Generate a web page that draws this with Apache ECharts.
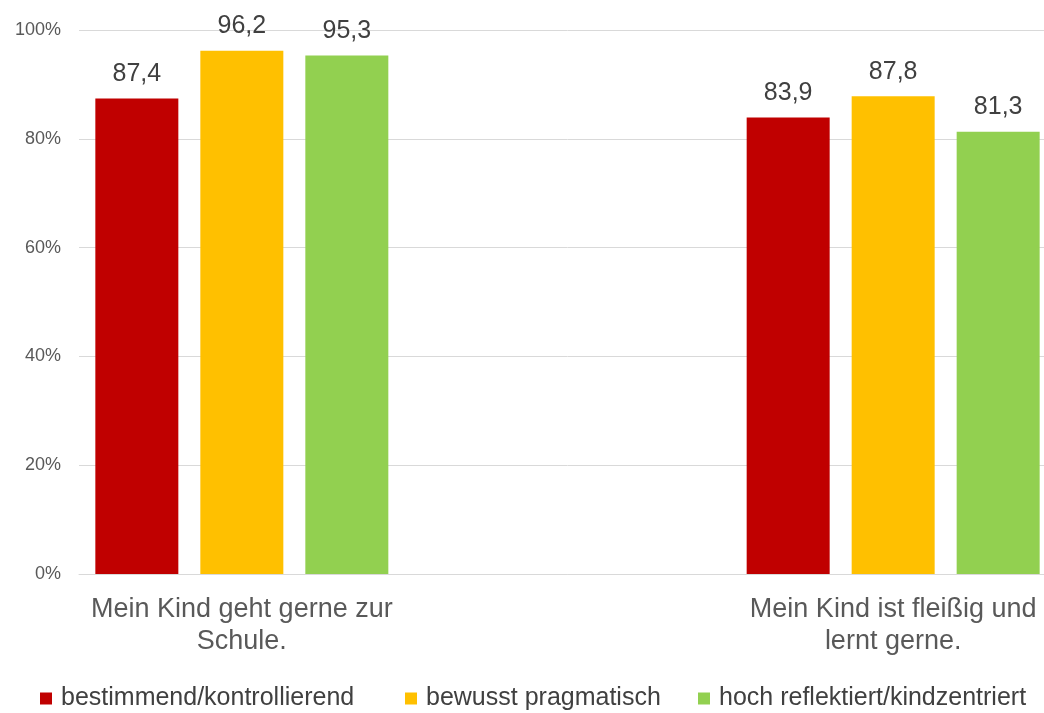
<!DOCTYPE html>
<html>
<head>
<meta charset="utf-8">
<script src="https://cdn.jsdelivr.net/npm/echarts@6/dist/echarts.min.js"></script>
<style>
  html, body { margin: 0; padding: 0; background: #fff; overflow: hidden; }
  #chart { width: 1060px; height: 713px; }
</style>
</head>
<body>
<div id="chart"></div>
<script>
// Statements (the empty middle slot separates the two groups)
const categories = ['Mein Kind geht gerne zur\nSchule.', '', 'Mein Kind ist fleißig und\nlernt gerne.'];
const seriesNames = ['bestimmend/kontrollierend', 'bewusst pragmatisch', 'hoch reflektiert/kindzentriert'];
const valuesKontrollierend = [87.4, '-', 83.9];
const valuesPragmatisch = [96.2, '-', 87.8];
const valuesReflektiert = [95.3, '-', 81.3];
const yTicks = [0, 20, 40, 60, 80, 100];
const colors = ['#C00000', '#FFC000', '#92D050'];

const font = 'Liberation Sans, Arial, sans-serif';
const seriesValues = [valuesKontrollierend, valuesPragmatisch, valuesReflektiert];

// one legend block per series so each entry sits at its own spot
const legendLefts = [40, 405, 698];
const legends = seriesNames.map((name, i) => ({
  data: [name],
  left: legendLefts[i],
  bottom: 2,
  padding: 0,
  itemWidth: 12,
  itemHeight: 12,
  icon: 'rect',
  selectedMode: false,
  textStyle: { fontSize: 25, color: '#404040', fontFamily: font, padding: [0, 0, 0, 4] }
}));

const chart = echarts.init(document.getElementById('chart'));
chart.setOption({
  animation: false,
  color: colors,
  textStyle: { fontFamily: font },
  grid: { left: 79, width: 977, top: 30, bottom: 139, containLabel: false },
  legend: legends,
  xAxis: {
    type: 'category',
    data: categories,
    axisLine: { show: true, lineStyle: { color: '#D9D9D9', width: 1 } },
    axisTick: { show: false },
    axisLabel: {
      interval: 0,
      fontSize: 27,
      color: '#595959',
      lineHeight: 32,
      margin: 20,
      fontFamily: font
    }
  },
  yAxis: {
    type: 'value',
    min: yTicks[0],
    max: yTicks[yTicks.length - 1],
    interval: yTicks[1] - yTicks[0],
    axisLine: { show: false },
    axisTick: { show: false },
    splitLine: { lineStyle: { color: '#D9D9D9', width: 1 } },
    axisLabel: {
      formatter: v => v + '%',
      fontSize: 18,
      color: '#595959',
      margin: 18,
      fontFamily: font
    }
  },
  series: seriesNames.map((name, i) => ({
    name,
    type: 'bar',
    data: seriesValues[i],
    barWidth: 83,
    barGap: '26.5%',
    itemStyle: { color: colors[i] },
    label: {
      show: true,
      position: 'top',
      distance: 12,
      fontSize: 25,
      color: '#404040',
      fontFamily: font,
      formatter: p => String(p.value).replace('.', ',')
    }
  }))
});
</script>
</body>
</html>
